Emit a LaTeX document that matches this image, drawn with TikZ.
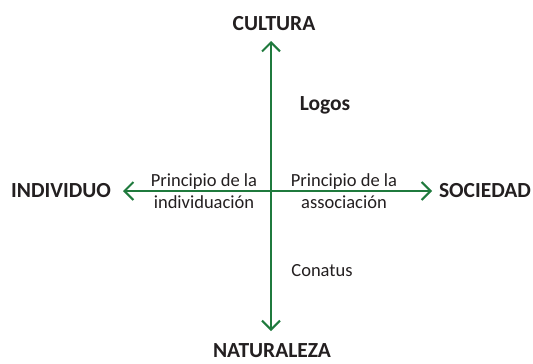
\documentclass[tikz,border=0pt]{standalone}
\usepackage{fontspec}
\setmainfont{Carlito}
\usetikzlibrary{arrows.meta}
\definecolor{axisgreen}{RGB}{31,122,61}
\definecolor{txt}{RGB}{35,31,32}
\begin{document}
\begin{tikzpicture}[x=1pt,y=-1pt,
  big/.style={font=\fontsize{21.5}{24}\selectfont\bfseries, text=txt, inner sep=0pt},
  small/.style={font=\fontsize{18.5}{22.5}\selectfont, text=txt, inner sep=0pt, align=center},
  axis/.style={draw=axisgreen, line width=2pt, {Straight Barb[length=9pt,width=18pt]}-{Straight Barb[length=9pt,width=18pt]}}]
\useasboundingbox (0,0) rectangle (533,364);
\node[big] (cul) at (274,24) {CULTURA};
\node[big] (nat) at (272,351) {NATURALEZA};
\node[big] (ind) at (61,191) {INDIVIDUO};
\node[big] (soc) at (485,191) {SOCIEDAD};
\coordinate (top) at (271,41);
\coordinate (bot) at (271,331);
\coordinate (lft) at (123,191);
\coordinate (rgt) at (432,191);
\draw[axis] (bot) -- (top);
\draw[axis] (lft) -- (rgt);
\node[big] (logos) at (325,105) {Logos};
\node[small] (conatus) at (322,271) {Conatus};
\node[small] (pind) at (204,191) {Principio de la\\individuación};
\node[small] (pasc) at (344,191) {Principio de la\\associación};
\end{tikzpicture}
\end{document}
